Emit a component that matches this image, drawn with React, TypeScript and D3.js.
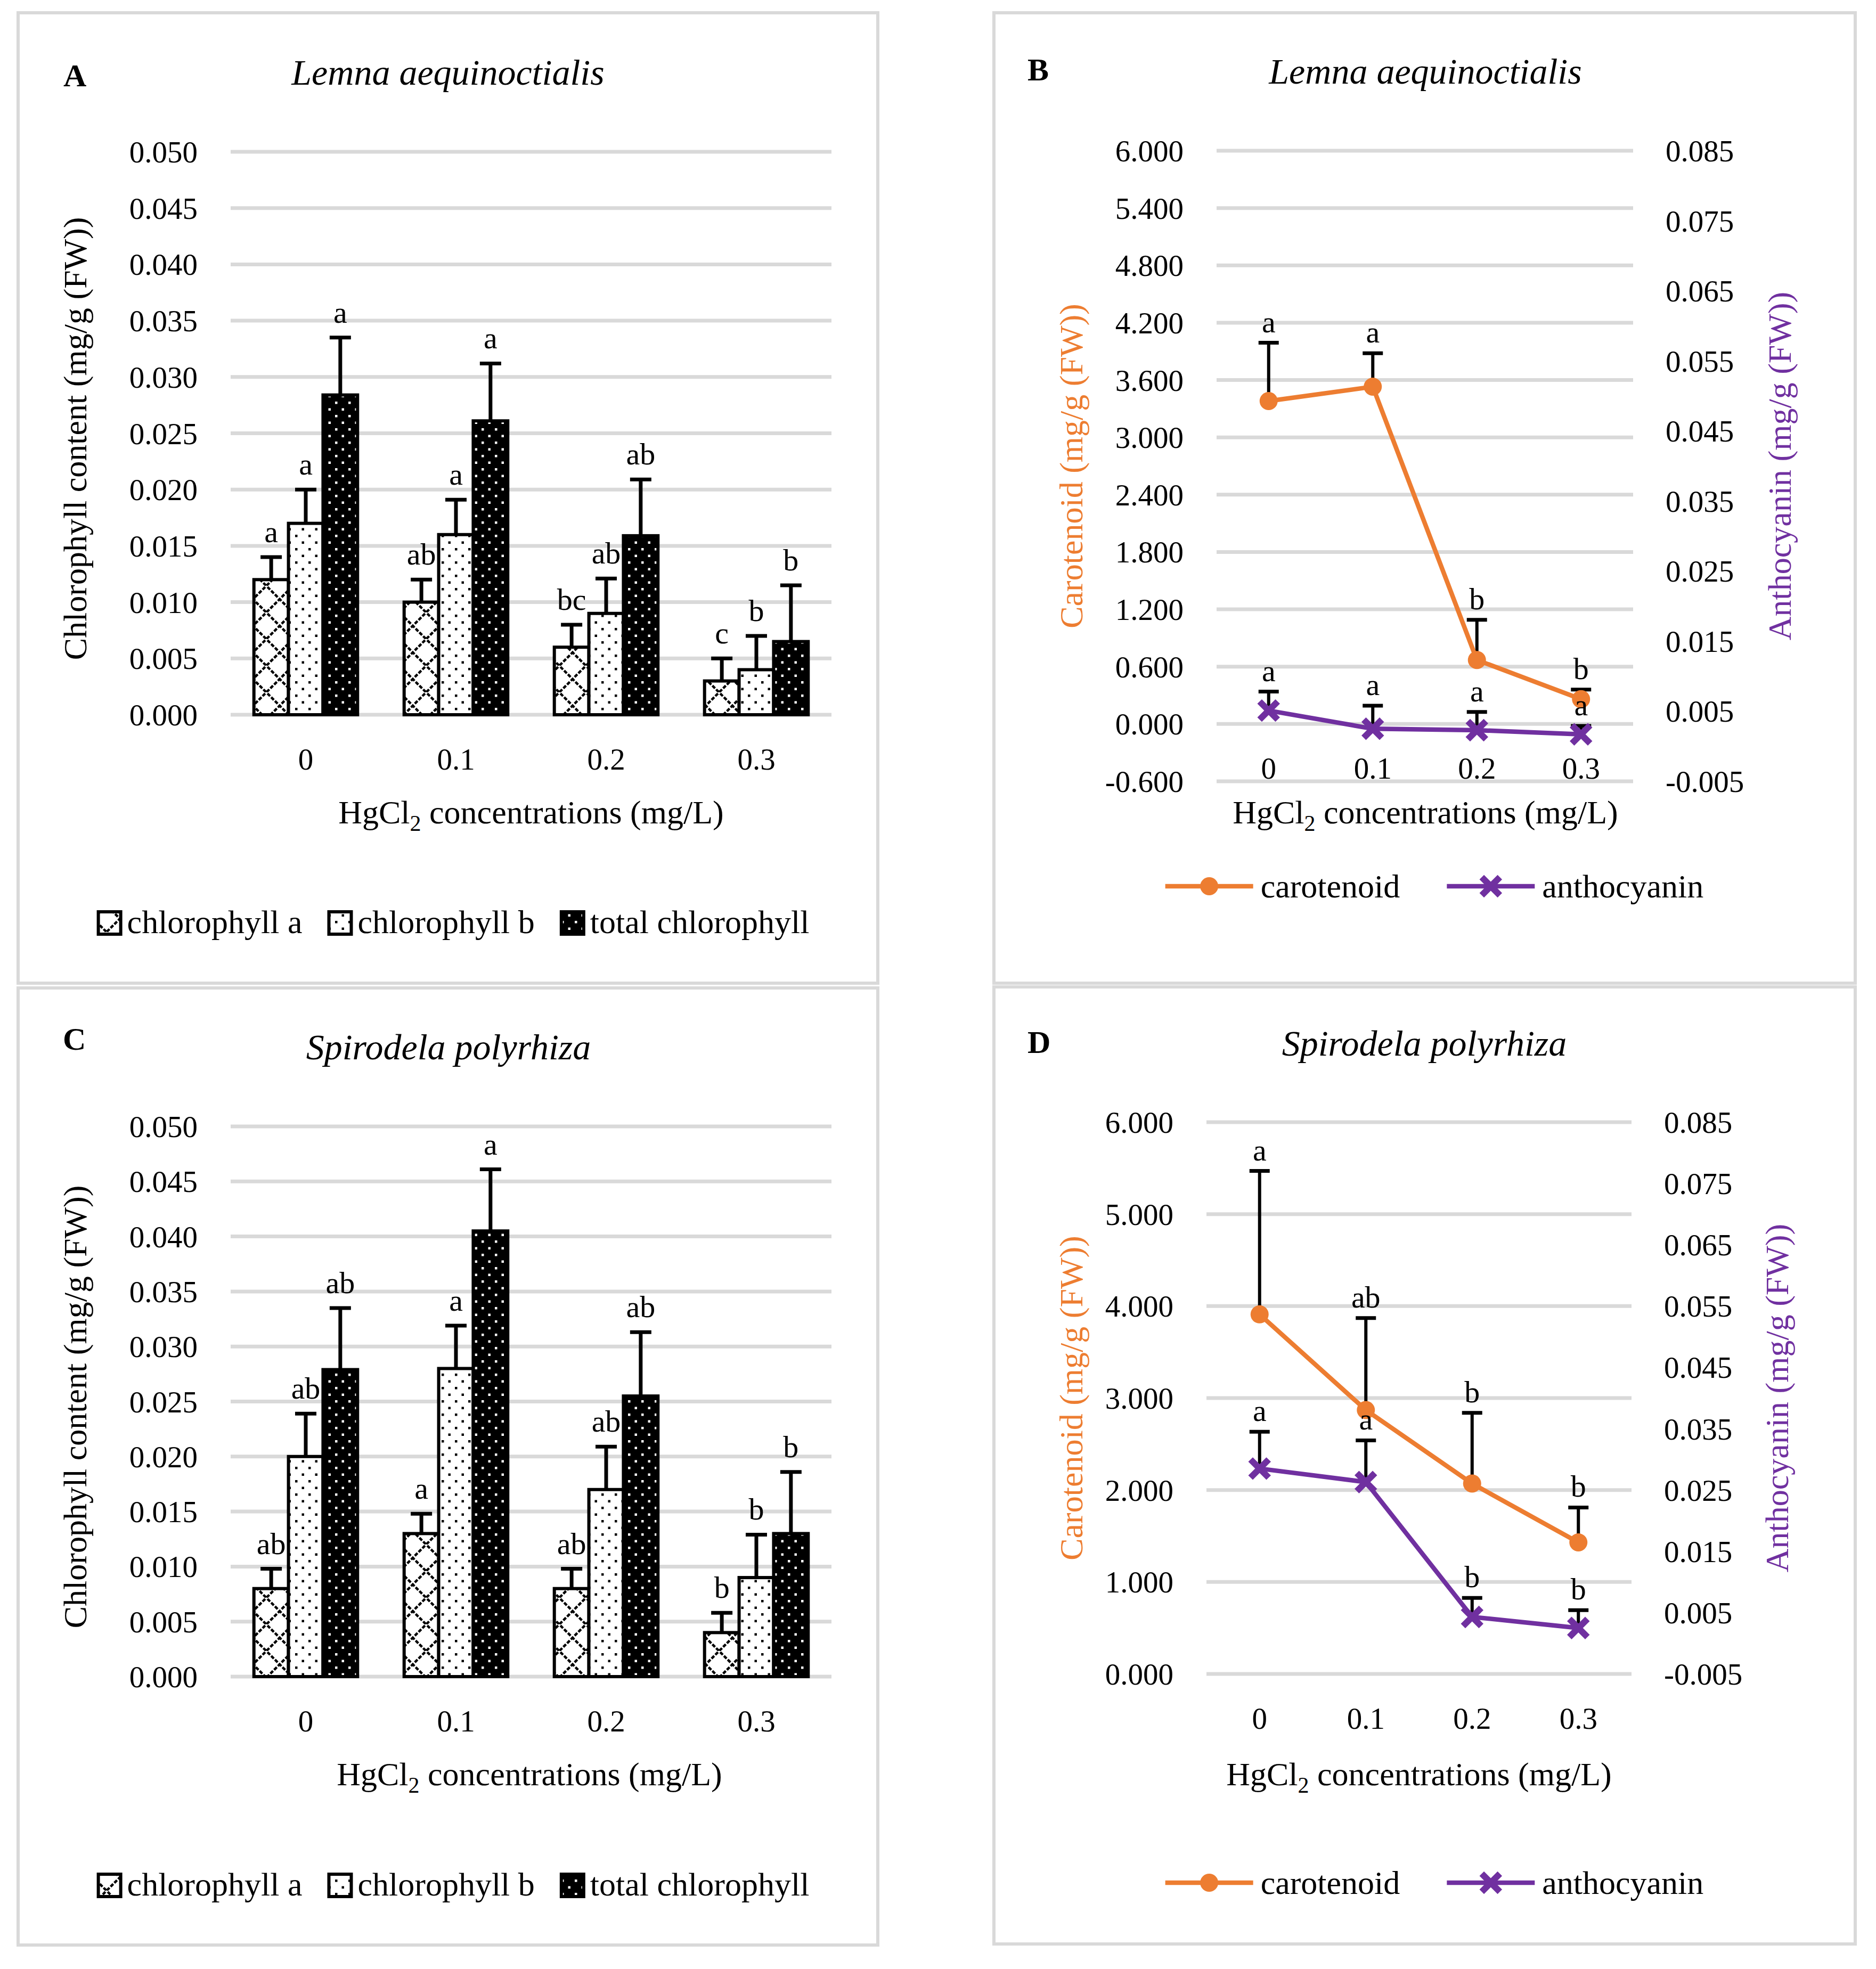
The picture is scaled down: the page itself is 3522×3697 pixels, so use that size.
import { useEffect, useRef } from "react";
import * as d3 from "d3";

// ---- data ----
const categories = ["0", "0.1", "0.2", "0.3"];
const barSeriesNames = ["chlorophyll a", "chlorophyll b", "total chlorophyll"];
const lineSeriesNames = ["carotenoid", "anthocyanin"];

const chlTicks = [0, 0.005, 0.01, 0.015, 0.02, 0.025, 0.03, 0.035, 0.04, 0.045, 0.05];
const lemnaCarTicks = [-0.6, 0, 0.6, 1.2, 1.8, 2.4, 3.0, 3.6, 4.2, 4.8, 5.4, 6.0];
const spiroCarTicks = [0, 1, 2, 3, 4, 5, 6];
const anthTicks = [-0.005, 0.005, 0.015, 0.025, 0.035, 0.045, 0.055, 0.065, 0.075, 0.085];

// A: Lemna aequinoctialis chlorophyll
const lemnaChlA = [0.012, 0.01, 0.006, 0.003];
const lemnaChlAErr = [0.002, 0.002, 0.002, 0.002];
const lemnaChlALetters = ["a", "ab", "bc", "c"];
const lemnaChlB = [0.017, 0.016, 0.009, 0.004];
const lemnaChlBErr = [0.003, 0.0031, 0.0031, 0.003];
const lemnaChlBLetters = ["a", "a", "ab", "b"];
const lemnaTotal = [0.0284, 0.0261, 0.0159, 0.0065];
const lemnaTotalErr = [0.0051, 0.0051, 0.005, 0.005];
const lemnaTotalLetters = ["a", "a", "ab", "b"];

// C: Spirodela polyrhiza chlorophyll
const spiroChlA = [0.008, 0.013, 0.008, 0.004];
const spiroChlAErr = [0.0018, 0.0018, 0.0018, 0.0018];
const spiroChlALetters = ["ab", "a", "ab", "b"];
const spiroChlB = [0.02, 0.028, 0.017, 0.009];
const spiroChlBErr = [0.0039, 0.0039, 0.0039, 0.0039];
const spiroChlBLetters = ["ab", "a", "ab", "b"];
const spiroTotal = [0.0279, 0.0405, 0.0255, 0.013];
const spiroTotalErr = [0.0056, 0.0056, 0.0058, 0.0056];
const spiroTotalLetters = ["ab", "a", "ab", "b"];

// B: Lemna aequinoctialis pigments
const lemnaCar = [3.38, 3.53, 0.67, 0.26];
const lemnaCarErr = [0.61, 0.35, 0.42, 0.1];
const lemnaCarLetters = ["a", "a", "b", "b"];
const lemnaAnth = [0.0051, 0.0025, 0.0023, 0.0017];
const lemnaAnthErr = [0.0027, 0.0033, 0.0026, 0.0012];
const lemnaAnthLetters = ["a", "a", "a", "a"];

// D: Spirodela polyrhiza pigments
const spiroCar = [3.91, 2.87, 2.07, 1.43];
const spiroCarErr = [1.56, 1.0, 0.77, 0.38];
const spiroCarLetters = ["a", "ab", "b", "b"];
const spiroAnth = [0.0285, 0.0263, 0.0043, 0.0025];
const spiroAnthErr = [0.006, 0.0068, 0.0031, 0.0029];
const spiroAnthLetters = ["a", "a", "b", "b"];

// ---- style ----
const W = 3522;
const H = 3697;
const FONT = '"Liberation Serif", "Times New Roman", serif';
const GRID = "#d9d9d9";
const ORANGE = "#ed7d31";
const PURPLE = "#7030a0";
const TICK = 57;
const TEXT = 62;
const LETTER = 58;

type Sel = d3.Selection<any, unknown, null, undefined>;

function addPatterns(svg: Sel) {
  const defs = svg.append("defs");

  // chlorophyll a: diagonal cross-hatch
  const pa = defs
    .append("pattern")
    .attr("id", "pat-a")
    .attr("patternUnits", "userSpaceOnUse")
    .attr("width", 50)
    .attr("height", 50);
  pa.append("rect").attr("width", 50).attr("height", 50).attr("fill", "#fff");
  pa.append("path")
    .attr("d", "M-5,-5L55,55M55,-5L-5,55")
    .attr("stroke", "#000")
    .attr("stroke-width", 4.5)
    .attr("stroke-dasharray", "7 3");

  // chlorophyll b: sparse black dots on white; total: white dots on black
  const dots = (id: string, bg: string, fg: string) => {
    const p = defs
      .append("pattern")
      .attr("id", id)
      .attr("patternUnits", "userSpaceOnUse")
      .attr("width", 25)
      .attr("height", 25);
    p.append("rect").attr("width", 25).attr("height", 25).attr("fill", bg);
    p.append("rect").attr("x", 4).attr("y", 4).attr("width", 4.5).attr("height", 4.5).attr("fill", fg);
    p.append("rect").attr("x", 16.5).attr("y", 16.5).attr("width", 4.5).attr("height", 4.5).attr("fill", fg);
  };
  dots("pat-b", "#fff", "#000");
  dots("pat-t", "#000", "#fff");
}

function drawFrame(svg: Sel, cfg: any) {
  const [bx, by, bw, bh] = cfg.box;
  svg
    .append("rect")
    .attr("x", bx)
    .attr("y", by)
    .attr("width", bw)
    .attr("height", bh)
    .attr("fill", "none")
    .attr("stroke", GRID)
    .attr("stroke-width", 6);

  svg
    .append("text")
    .attr("x", cfg.tagPos[0])
    .attr("y", cfg.tagPos[1])
    .style("font-size", "60px")
    .style("font-weight", "bold")
    .text(cfg.tag);

  svg
    .append("text")
    .attr("x", cfg.titlePos[0])
    .attr("y", cfg.titlePos[1])
    .attr("text-anchor", "middle")
    .style("font-size", "68px")
    .style("font-style", "italic")
    .text(cfg.title);
}

function xTitle(svg: Sel, cx: number, y: number) {
  const t = svg
    .append("text")
    .attr("x", cx)
    .attr("y", y)
    .attr("text-anchor", "middle")
    .style("font-size", `${TEXT}px`);
  t.append("tspan").text("HgCl");
  t.append("tspan").attr("dy", 14).style("font-size", "42px").text("2");
  t.append("tspan").attr("dy", -14).text(" concentrations (mg/L)");
}

function yTitle(svg: Sel, x: number, y: number, label: string, color: string) {
  svg
    .append("text")
    .attr("transform", `translate(${x},${y}) rotate(-90)`)
    .attr("text-anchor", "middle")
    .attr("fill", color)
    .style("font-size", `${TEXT}px`)
    .text(label);
}

function drawBarPanel(svg: Sel, cfg: any) {
  drawFrame(svg, cfg);
  const { x0, x1, yTop, yBottom } = cfg.plot;
  const g = svg.append("g");

  const y = d3.scaleLinear().domain([0, 0.05]).range([yBottom, yTop]);
  const xCat = d3
    .scaleBand<string>()
    .domain(categories)
    .range([x0, x1])
    .paddingInner(0.31)
    .paddingOuter(0.155);
  const xSer = d3
    .scaleBand<number>()
    .domain(d3.range(cfg.series.length))
    .range([0, xCat.bandwidth()]);

  // Gridlines + tick labels
  g.selectAll("line.grid")
    .data(chlTicks)
    .join("line")
    .attr("class", "grid")
    .attr("x1", x0)
    .attr("x2", x1)
    .attr("y1", (d) => y(d))
    .attr("y2", (d) => y(d))
    .attr("stroke", GRID)
    .attr("stroke-width", 7);

  g.selectAll("text.ytick")
    .data(chlTicks)
    .join("text")
    .attr("class", "ytick")
    .attr("x", x0 - 62)
    .attr("y", (d) => y(d) + 20)
    .attr("text-anchor", "end")
    .style("font-size", `${TICK}px`)
    .text((d) => d.toFixed(3));

  g.selectAll("text.xtick")
    .data(categories)
    .join("text")
    .attr("class", "xtick")
    .attr("x", (d) => xCat(d)! + xCat.bandwidth() / 2)
    .attr("y", y(0) + 103)
    .attr("text-anchor", "middle")
    .style("font-size", `${TICK}px`)
    .text((d) => d);

  // Bars
  cfg.series.forEach((s: any, si: number) => {
    const sg = g.append("g");
    const bw = xSer.bandwidth();
    const cx = (i: number) => xCat(categories[i])! + xSer(si)! + bw / 2;

    sg.selectAll("rect")
      .data(s.values as number[])
      .join("rect")
      .attr("x", (_, i) => xCat(categories[i])! + xSer(si)!)
      .attr("y", (d) => y(d))
      .attr("width", bw)
      .attr("height", (d) => y(0) - y(d))
      .attr("fill", `url(#${s.pattern})`)
      .attr("stroke", "#000")
      .attr("stroke-width", 6);

    // error bars (plus only)
    s.values.forEach((v: number, i: number) => {
      const top = y(v + s.errors[i]);
      sg.append("line")
        .attr("x1", cx(i))
        .attr("x2", cx(i))
        .attr("y1", y(v))
        .attr("y2", top)
        .attr("stroke", "#000")
        .attr("stroke-width", 7);
      sg.append("line")
        .attr("x1", cx(i) - 20)
        .attr("x2", cx(i) + 20)
        .attr("y1", top)
        .attr("y2", top)
        .attr("stroke", "#000")
        .attr("stroke-width", 7);
      sg.append("text")
        .attr("x", cx(i))
        .attr("y", top - 28)
        .attr("text-anchor", "middle")
        .style("font-size", `${LETTER}px`)
        .text(s.letters[i]);
    });
  });

  yTitle(svg, cfg.yTitleX, (yTop + yBottom) / 2 + 10, "Chlorophyll content (mg/g (FW))", "#000");
  xTitle(svg, cfg.xTitlePos[0], cfg.xTitlePos[1]);

  // Legend, centred, laid out from measured text
  const lg = svg.append("g");
  const sw = 42;
  let cursor = 0;
  const items: { x: number; sel: any; pattern: string }[] = [];
  barSeriesNames.forEach((name, i) => {
    const t = lg
      .append("text")
      .attr("y", cfg.legendPos[1] + 19)
      .style("font-size", `${TEXT}px`)
      .text(name);
    const tw = (t.node() as SVGTextElement).getComputedTextLength();
    items.push({ x: cursor, sel: t, pattern: cfg.series[i].pattern });
    cursor += sw + 12 + tw + (i < barSeriesNames.length - 1 ? 50 : 0);
  });
  const start = cfg.legendPos[0] - cursor / 2;
  items.forEach((it) => {
    lg.append("rect")
      .attr("x", start + it.x)
      .attr("y", cfg.legendPos[1] - sw / 2)
      .attr("width", sw)
      .attr("height", sw)
      .attr("fill", `url(#${it.pattern})`)
      .attr("stroke", "#000")
      .attr("stroke-width", 6);
    it.sel.attr("x", start + it.x + sw + 12);
  });
}

function crossPath(s: number) {
  return `M${-s},${-s}L${s},${s}M${-s},${s}L${s},${-s}`;
}

function drawLinePanel(svg: Sel, cfg: any) {
  drawFrame(svg, cfg);
  const { x0, x1, yTop, yBottom } = cfg.plot;
  const g = svg.append("g");

  const yL = d3.scaleLinear().domain(cfg.leftDomain).range([yBottom, yTop]);
  const yR = d3.scaleLinear().domain([-0.005, 0.085]).range([yBottom, yTop]);
  const x = d3.scalePoint<string>().domain(categories).range([x0, x1]).padding(0.5);

  g.selectAll("line.grid")
    .data(cfg.leftTicks as number[])
    .join("line")
    .attr("class", "grid")
    .attr("x1", x0)
    .attr("x2", x1)
    .attr("y1", (d) => yL(d))
    .attr("y2", (d) => yL(d))
    .attr("stroke", GRID)
    .attr("stroke-width", 7);

  g.selectAll("text.ltick")
    .data(cfg.leftTicks as number[])
    .join("text")
    .attr("class", "ltick")
    .attr("x", x0 - 62)
    .attr("y", (d) => yL(d) + 20)
    .attr("text-anchor", "end")
    .style("font-size", `${TICK}px`)
    .text((d) => d.toFixed(3));

  g.selectAll("text.rtick")
    .data(anthTicks)
    .join("text")
    .attr("class", "rtick")
    .attr("x", x1 + 61)
    .attr("y", (d) => yR(d) + 20)
    .attr("text-anchor", "start")
    .style("font-size", `${TICK}px`)
    .text((d) => d.toFixed(3));

  g.selectAll("text.xtick")
    .data(categories)
    .join("text")
    .attr("class", "xtick")
    .attr("x", (d) => x(d)!)
    .attr("y", yL(0) + 103)
    .attr("text-anchor", "middle")
    .style("font-size", `${TICK}px`)
    .text((d) => d);

  const series = [
    { ...cfg.carotenoid, scale: yL, color: ORANGE, marker: "circle" },
    { ...cfg.anthocyanin, scale: yR, color: PURPLE, marker: "cross" },
  ];

  // error bars
  series.forEach((s) => {
    s.values.forEach((v: number, i: number) => {
      const cx = x(categories[i])!;
      const top = s.scale(v + s.errors[i]);
      g.append("line")
        .attr("x1", cx)
        .attr("x2", cx)
        .attr("y1", s.scale(v))
        .attr("y2", top)
        .attr("stroke", "#000")
        .attr("stroke-width", 6);
      g.append("line")
        .attr("x1", cx - 19)
        .attr("x2", cx + 19)
        .attr("y1", top)
        .attr("y2", top)
        .attr("stroke", "#000")
        .attr("stroke-width", 7);
    });
  });

  // lines + markers
  series.forEach((s) => {
    const line = d3
      .line<number>()
      .x((_, i) => x(categories[i])!)
      .y((d) => s.scale(d));
    g.append("path")
      .datum(s.values as number[])
      .attr("fill", "none")
      .attr("stroke", s.color)
      .attr("stroke-width", 8.5)
      .attr("stroke-linejoin", "round")
      .attr("d", line);

    s.values.forEach((v: number, i: number) => {
      const cx = x(categories[i])!;
      if (s.marker === "circle") {
        g.append("circle").attr("cx", cx).attr("cy", s.scale(v)).attr("r", 17).attr("fill", s.color);
      } else {
        g.append("path")
          .attr("transform", `translate(${cx},${s.scale(v)})`)
          .attr("d", crossPath(17))
          .attr("stroke", s.color)
          .attr("stroke-width", 12)
          .attr("fill", "none");
      }
    });
  });

  // significance letters
  series.forEach((s) => {
    s.values.forEach((v: number, i: number) => {
      g.append("text")
        .attr("x", x(categories[i])!)
        .attr("y", s.scale(v + s.errors[i]) - 20)
        .attr("text-anchor", "middle")
        .style("font-size", `${LETTER}px`)
        .text(s.letters[i]);
    });
  });

  yTitle(svg, cfg.leftTitleX, (yTop + yBottom) / 2, "Carotenoid (mg/g (FW))", ORANGE);
  yTitle(svg, cfg.rightTitleX, (yTop + yBottom) / 2, "Anthocyanin (mg/g (FW))", PURPLE);
  xTitle(svg, cfg.xTitlePos[0], cfg.xTitlePos[1]);

  // Legend
  const lg = svg.append("g");
  const lineLen = 165;
  let cursor = 0;
  const items: { x: number; sel: any; s: any }[] = [];
  lineSeriesNames.forEach((name, i) => {
    const t = lg
      .append("text")
      .attr("y", cfg.legendPos[1] + 21)
      .style("font-size", `${TEXT}px`)
      .text(name);
    const tw = (t.node() as SVGTextElement).getComputedTextLength();
    items.push({ x: cursor, sel: t, s: series[i] });
    cursor += lineLen + 14 + tw + (i < lineSeriesNames.length - 1 ? 88 : 0);
  });
  const start = cfg.legendPos[0] - cursor / 2;
  const ly = cfg.legendPos[1];
  items.forEach((it) => {
    const lx = start + it.x;
    lg.append("line")
      .attr("x1", lx)
      .attr("x2", lx + lineLen)
      .attr("y1", ly)
      .attr("y2", ly)
      .attr("stroke", it.s.color)
      .attr("stroke-width", 8.5);
    if (it.s.marker === "circle") {
      lg.append("circle").attr("cx", lx + lineLen / 2).attr("cy", ly).attr("r", 17).attr("fill", it.s.color);
    } else {
      lg.append("path")
        .attr("transform", `translate(${lx + lineLen / 2},${ly})`)
        .attr("d", crossPath(17))
        .attr("stroke", it.s.color)
        .attr("stroke-width", 12);
    }
    it.sel.attr("x", lx + lineLen + 14);
  });
}

export default function App() {
  const svgRef = useRef<SVGSVGElement>(null);

  useEffect(() => {
    if (!svgRef.current) return;
    document.body.style.margin = "0";

    const svg = d3.select(svgRef.current);
    svg.selectAll("*").remove();
    svg.attr("font-family", FONT);
    svg.append("rect").attr("width", W).attr("height", H).attr("fill", "#fff");
    addPatterns(svg);

    drawBarPanel(svg, {
      box: [34, 24, 1614, 1822],
      tag: "A",
      tagPos: [119, 162],
      title: "Lemna aequinoctialis",
      titlePos: [841, 159],
      plot: { x0: 433, x1: 1561, yTop: 285, yBottom: 1342 },
      yTitleX: 162,
      xTitlePos: [997, 1546],
      legendPos: [852, 1733],
      series: [
        { values: lemnaChlA, errors: lemnaChlAErr, letters: lemnaChlALetters, pattern: "pat-a" },
        { values: lemnaChlB, errors: lemnaChlBErr, letters: lemnaChlBLetters, pattern: "pat-b" },
        { values: lemnaTotal, errors: lemnaTotalErr, letters: lemnaTotalLetters, pattern: "pat-t" },
      ],
    });

    drawBarPanel(svg, {
      box: [34, 1855, 1614, 1797],
      tag: "C",
      tagPos: [118, 1971],
      title: "Spirodela polyrhiza",
      titlePos: [842, 1989],
      plot: { x0: 433, x1: 1561, yTop: 2115, yBottom: 3148 },
      yTitleX: 162,
      xTitlePos: [994, 3352],
      legendPos: [852, 3540],
      series: [
        { values: spiroChlA, errors: spiroChlAErr, letters: spiroChlALetters, pattern: "pat-a" },
        { values: spiroChlB, errors: spiroChlBErr, letters: spiroChlBLetters, pattern: "pat-b" },
        { values: spiroTotal, errors: spiroTotalErr, letters: spiroTotalLetters, pattern: "pat-t" },
      ],
    });

    drawLinePanel(svg, {
      box: [1866, 24, 1617, 1822],
      tag: "B",
      tagPos: [1929, 151],
      title: "Lemna aequinoctialis",
      titlePos: [2676, 157],
      plot: { x0: 2284, x1: 3066, yTop: 283, yBottom: 1467 },
      leftDomain: [-0.6, 6],
      leftTicks: lemnaCarTicks,
      leftTitleX: 2032,
      rightTitleX: 3362,
      xTitlePos: [2676, 1546],
      legendPos: [2693, 1664],
      carotenoid: { values: lemnaCar, errors: lemnaCarErr, letters: lemnaCarLetters },
      anthocyanin: { values: lemnaAnth, errors: lemnaAnthErr, letters: lemnaAnthLetters },
    });

    drawLinePanel(svg, {
      box: [1866, 1853, 1617, 1797],
      tag: "D",
      tagPos: [1929, 1977],
      title: "Spirodela polyrhiza",
      titlePos: [2674, 1982],
      plot: { x0: 2265, x1: 3063, yTop: 2107, yBottom: 3143 },
      leftDomain: [0, 6],
      leftTicks: spiroCarTicks,
      leftTitleX: 2032,
      rightTitleX: 3357,
      xTitlePos: [2664, 3352],
      legendPos: [2693, 3535],
      carotenoid: { values: spiroCar, errors: spiroCarErr, letters: spiroCarLetters },
      anthocyanin: { values: spiroAnth, errors: spiroAnthErr, letters: spiroAnthLetters },
    });
  }, []);

  return <svg ref={svgRef} width={W} height={H} style={{ display: "block" }}></svg>;
}
